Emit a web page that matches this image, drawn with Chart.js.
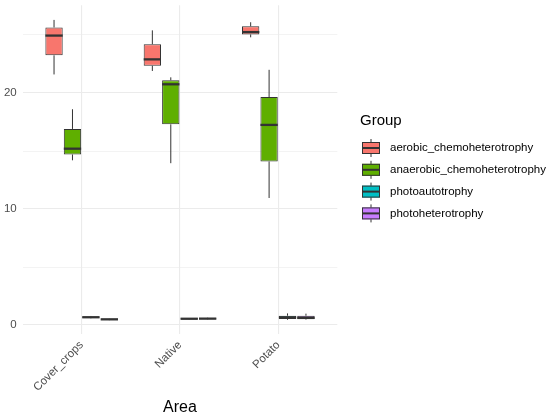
<!DOCTYPE html>
<html>
<head>
<meta charset="utf-8">
<script src="https://cdn.jsdelivr.net/npm/chart.js@4"></script>
<style>
    html, body { margin: 0; padding: 0; background: #ffffff; }
    #wrap { width: 550px; height: 416px; }
</style>
</head>
<body>
<div id="wrap"><canvas id="chart"></canvas></div>
<script>
// Boxplot of functional groups per area (ggplot-style)
const areas = ['Cover_crops', 'Native', 'Potato'];
const groups = ['aerobic_chemoheterotrophy', 'anaerobic_chemoheterotrophy', 'photoautotrophy', 'photoheterotrophy'];
const groupColors = ['#F8766D', '#5FAF00', '#00BFC4', '#C77CFF'];

// [lower whisker, q1, median, q3, upper whisker] per area
const aerobicStats = [[21.6, 23.25, 24.95, 25.65, 26.3], [21.9, 22.35, 22.9, 24.2, 25.4], [24.8, 25.05, 25.25, 25.75, 26.1]];
const anaerobicStats = [[14.2, 14.7, 15.2, 16.9, 18.6], [13.95, 17.3, 20.75, 21.1, 21.35], [10.95, 14.1, 17.25, 19.65, 22.0]];
const photoautoStats = [[0.58, 0.62, 0.67, 0.74, 0.78], [0.48, 0.5, 0.54, 0.58, 0.6], [0.45, 0.52, 0.66, 0.8, 1.0]];
const photoheteroStats = [[0.42, 0.45, 0.49, 0.53, 0.55], [0.48, 0.51, 0.55, 0.6, 0.63], [0.45, 0.5, 0.62, 0.8, 0.98]];

const yTicks = [0, 10, 20];

const allStats = [aerobicStats, anaerobicStats, photoautoStats, photoheteroStats];
const FONT = '"Liberation Sans", Arial, sans-serif';

const boxPlugin = {
    id: 'boxWhiskers',
    afterDatasetsDraw(chart) {
        const ctx = chart.ctx;
        const y = chart.scales.y;
        ctx.save();
        chart.data.datasets.forEach((ds, di) => {
            const meta = chart.getDatasetMeta(di);
            meta.data.forEach((bar, i) => {
                const s = ds.stats[i];
                const half = bar.width / 2;
                ctx.strokeStyle = '#333333';
                ctx.lineWidth = 1;
                ctx.beginPath();
                ctx.moveTo(bar.x, y.getPixelForValue(s[3]));
                ctx.lineTo(bar.x, y.getPixelForValue(s[4]));
                ctx.moveTo(bar.x, y.getPixelForValue(s[1]));
                ctx.lineTo(bar.x, y.getPixelForValue(s[0]));
                ctx.stroke();
                ctx.lineWidth = 2.3;
                ctx.beginPath();
                const my = y.getPixelForValue(s[2]);
                ctx.moveTo(bar.x - half, my);
                ctx.lineTo(bar.x + half, my);
                ctx.stroke();
            });
        });
        ctx.restore();
    }
};

const legendPlugin = {
    id: 'groupLegend',
    afterDraw(chart) {
        const ctx = chart.ctx;
        ctx.save();
        ctx.fillStyle = '#000000';
        ctx.font = '15px ' + FONT;
        ctx.textBaseline = 'middle';
        ctx.fillText('Group', 360, 121);
        groups.forEach((g, i) => {
            const cy = 148 + i * 21.8;
            const x0 = 362, w = 18;
            ctx.strokeStyle = '#333333';
            ctx.lineWidth = 1;
            ctx.beginPath();
            ctx.moveTo(x0 + w / 2, cy - 9);
            ctx.lineTo(x0 + w / 2, cy + 9);
            ctx.stroke();
            ctx.fillStyle = groupColors[i];
            ctx.fillRect(x0, cy - 6, w, 12);
            ctx.strokeRect(x0 + 0.5, cy - 5.5, w - 1, 11);
            ctx.lineWidth = 2;
            ctx.beginPath();
            ctx.moveTo(x0, cy);
            ctx.lineTo(x0 + w, cy);
            ctx.stroke();
            ctx.fillStyle = '#000000';
            ctx.font = '11.5px ' + FONT;
            ctx.fillText(g, 390, cy);
        });
        ctx.restore();
    }
};

new Chart(document.getElementById('chart'), {
    type: 'bar',
    data: {
        datasets: groups.map((g, i) => ({
            label: g,
            stats: allStats[i],
            data: allStats[i].map((s, k) => ({ x: k, y: [s[1], s[3]] })),
            backgroundColor: groupColors[i],
            borderColor: '#333333',
            borderWidth: 1,
            borderSkipped: false,
            categoryPercentage: 0.75,
            barPercentage: 0.94
        }))
    },
    options: {
        responsive: true,
        maintainAspectRatio: false,
        animation: false,
        layout: {
            padding: { top: 5.3, right: 212.7, left: 0, bottom: 0 }
        },
        plugins: {
            legend: { display: false },
            tooltip: { enabled: false }
        },
        scales: {
            x: {
                type: 'linear',
                offset: false,
                min: -0.6,
                max: 2.6,
                grid: {
                    offset: false,
                    color: '#EBEBEB',
                    lineWidth: 1.1,
                    drawTicks: false
                },
                border: { display: false },
                ticks: {
                    stepSize: 1,
                    includeBounds: false,
                    autoSkip: false,
                    color: '#4D4D4D',
                    font: { family: FONT, size: 11.5 },
                    minRotation: 45,
                    maxRotation: 45,
                    padding: 4,
                    callback: (v) => (areas[v] !== undefined ? areas[v] : '')
                },
                title: {
                    display: true,
                    text: 'Area',
                    color: '#000000',
                    font: { family: FONT, size: 16, lineHeight: 1 },
                    padding: { top: 0, bottom: 0 }
                },
                afterFit(scale) {
                    scale.height = 81.7;
                    scale.paddingLeft = 0;
                    scale.paddingRight = 0;
                }
            },
            y: {
                min: -0.8,
                max: 27.56,
                grid: {
                    color: '#EBEBEB',
                    lineWidth: (c) => (c.tick && yTicks.includes(c.tick.value) ? 1.1 : 0.6),
                    drawTicks: false
                },
                border: { display: false },
                ticks: {
                    stepSize: 5,
                    includeBounds: false,
                    color: '#4D4D4D',
                    font: { family: FONT, size: 11.5 },
                    padding: 6,
                    callback: (v) => (yTicks.includes(v) ? String(v) : '')
                },
                afterFit(scale) {
                    scale.width = 22.7;
                    scale.paddingTop = 0;
                    scale.paddingBottom = 0;
                }
            }
        }
    },
    plugins: [boxPlugin, legendPlugin]
});
</script>
</body>
</html>
